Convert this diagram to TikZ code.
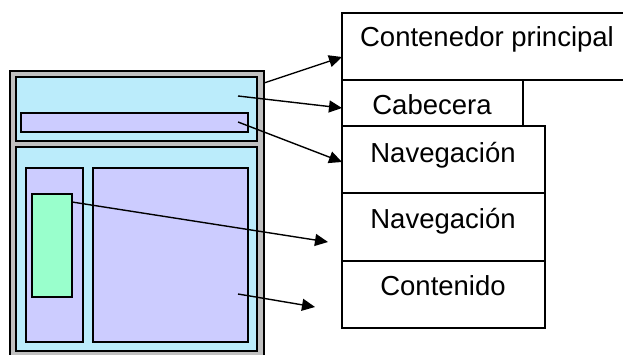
\documentclass[tikz,border=0pt]{standalone}
\usepackage{fontspec}
\setmainfont{Liberation Sans}
\usetikzlibrary{arrows.meta}
\definecolor{lblue}{RGB}{187,236,251}
\definecolor{lav}{RGB}{204,204,255}
\definecolor{mint}{RGB}{153,255,204}
\definecolor{silver}{RGB}{192,192,192}
\tikzset{
  pane/.style={draw=black, line width=2.2pt, anchor=north west, inner sep=0pt, outer sep=0pt},
  rbox/.style={draw=black, line width=1.4pt, fill=white, anchor=north west, inner sep=0pt, outer sep=0pt},
  lbl/.style={anchor=base, inner sep=0pt, font=\fontsize{27.5}{31}\selectfont},
  conn/.style={line width=1.4pt, -{Triangle[length=13pt,width=12pt]}},
}
\begin{document}
\begin{tikzpicture}[x=1pt,y=-1pt]
\useasboundingbox (0,0) rectangle (623,355);
\clip (0,0) rectangle (623,355);
% left layout
\node[pane, fill=silver, minimum width=254pt, minimum height=300pt] (outer) at (10,71) {};
\node[pane, fill=lblue, minimum width=241pt, minimum height=64pt] (head) at (16,77) {};
\node[pane, fill=lav, minimum width=227pt, minimum height=19pt] (navbar) at (21,113) {};
\node[pane, fill=lblue, minimum width=241pt, minimum height=204pt] (body) at (16,147) {};
\node[pane, fill=lav, minimum width=57pt, minimum height=174pt] (leftcol) at (26,168) {};
\node[pane, fill=mint, minimum width=40pt, minimum height=103pt] (green) at (32,194) {};
\node[pane, fill=lav, minimum width=155pt, minimum height=174pt] (content) at (93,168) {};
% right boxes
\node[rbox, minimum width=290pt, minimum height=67pt] (main) at (342,13) {};
\node[rbox, minimum width=181pt, minimum height=46pt] (cab) at (342,80) {};
\node[rbox, minimum width=203pt, minimum height=67pt] (nav1) at (342,126) {};
\node[rbox, minimum width=203pt, minimum height=68pt] (nav2) at (342,193) {};
\node[rbox, minimum width=203pt, minimum height=67pt] (cont) at (342,261) {};
\node[lbl] (tmain) at (487,47) {Contenedor principal};
\node[lbl] (tcab) at (432,115) {Cabecera};
\node[lbl] (tnav1) at (443,163) {Navegación};
\node[lbl] (tnav2) at (443,229) {Navegación};
\node[lbl] (tcont) at (443,295) {Contenido};
% connector ends
\coordinate (s1) at (264,83);
\coordinate (s2) at (238,96);
\coordinate (s3) at (238,122);
\coordinate (s4) at (72,202);
\coordinate (s5) at (238,294);
\coordinate (e1) at (342,57);
\coordinate (e2) at (342,108);
\coordinate (e3) at (342,162);
\coordinate (e4) at (328,242);
\coordinate (e5) at (315,307);
\draw[conn] (s1) -- (e1);
\draw[conn] (s2) -- (e2);
\draw[conn] (s3) -- (e3);
\draw[conn] (s4) -- (e4);
\draw[conn] (s5) -- (e5);
\end{tikzpicture}
\end{document}
